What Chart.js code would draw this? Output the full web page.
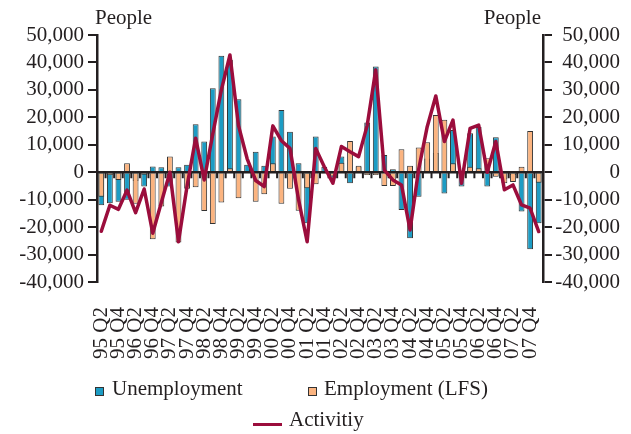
<!DOCTYPE html>
<html>
<head>
<meta charset="utf-8">
<script src="https://cdn.jsdelivr.net/npm/chart.js@4.4.0/dist/chart.umd.min.js"></script>
<style>
  body { margin: 0; background: #fff; }
  #wrap { position: relative; width: 631px; height: 434px; font-family: "Liberation Serif", "DejaVu Serif", serif; color: #231f20; }
  #wrap canvas { position: absolute; left: 0; top: 0; }
  .txt { position: absolute; font-size: 21px; line-height: 21px; white-space: nowrap; }
  .box { position: absolute; width: 7px; height: 7px; border: 1px solid #333; }
  .dash { position: absolute; height: 3px; background: #9b0d3c; }
</style>
</head>
<body>
<div id="wrap">
  <canvas id="chart" width="631" height="434"></canvas>
  <div class="txt" style="left:95px; top:7px;">People</div>
  <div class="txt" style="right:90px; top:7px;">People</div>
  <div class="box" style="left:95px; top:387px; background:#1c9cc4;"></div>
  <div class="txt" style="left:112px; top:378px;">Unemployment</div>
  <div class="box" style="left:308px; top:387px; background:#fbb480;"></div>
  <div class="txt" style="left:324px; top:378px;">Employment (LFS)</div>
  <div class="dash" style="left:253px; top:423px; width:29px;"></div>
  <div class="txt" style="left:289px; top:409px;">Activitiy</div>
</div>
<script>
const quarters = [
  "95 Q2", "95 Q3", "95 Q4", "96 Q1", "96 Q2", "96 Q3", "96 Q4",
  "97 Q1", "97 Q2", "97 Q3", "97 Q4", "98 Q1", "98 Q2", "98 Q3", "98 Q4",
  "99 Q1", "99 Q2", "99 Q3", "99 Q4", "00 Q1", "00 Q2", "00 Q3", "00 Q4",
  "01 Q1", "01 Q2", "01 Q3", "01 Q4", "02 Q1", "02 Q2", "02 Q3", "02 Q4",
  "03 Q1", "03 Q2", "03 Q3", "03 Q4", "04 Q1", "04 Q2", "04 Q3", "04 Q4",
  "05 Q1", "05 Q2", "05 Q3", "05 Q4", "06 Q1", "06 Q2", "06 Q3", "06 Q4",
  "07 Q1", "07 Q2", "07 Q3", "07 Q4", "08 Q1"
];

// change in people
const unemployment = [
  -12000, -11300, -10700, -10000, -3200, -5200, 2100,
  1800, -5200, 1800, 2700, 17500, 11200, 30600, 42400,
  41000, 26600, 2700, 7500, 2400, 13000, 22700, 14800,
  3300, -18600, 13000, 2000, -2000, 5700, -4000, 2000,
  18100, 38500, 6300, 1100, -13700, -24000, -8900, 5000,
  7000, -7700, 15400, -5200, 14200, 16500, -5200, 12800,
  -2500, -1000, -14300, -28000, -18600
];

const employment = [
  -8900, -1000, -2800, 3300, -11500, -900, -24400,
  -12500, 5700, -25600, -6000, -5500, -14100, -18800, -11000,
  1500, -9500, 500, -10700, -8000, 3300, -11500, -6000,
  -14000, -5800, -4400, -500, -1500, 3500, 11400, 2400,
  -1000, -1000, -5000, -5000, 8400, 2400, 9000, 10900,
  20900, 19100, 3300, 500, 2000, 1500, 5100, -1600,
  -4000, -3500, 2000, 15000, -3800
];

const activity = [
  -21500, -12000, -13500, -6500, -14700, -6100, -22200,
  -11000, 0, -25300, -5000, 12400, -2800, 14000, 30000,
  42700, 17000, 5000, -3000, -5200, 16900, 11500, 8700,
  -10000, -25300, 8700, 2000, -4000, 9400, 7500, 5700,
  17000, 37300, 800, -2800, -4600, -21000, 1000, 16600,
  27800, 11200, 19000, -4000, 16000, 17200, 0, 11200,
  -6400, -4600, -11900, -13100, -21600
];

const yTicks = { min: -40000, max: 50000, step: 10000 };

const ink = "#231f20";
const fontFamily = "'Liberation Serif', 'DejaVu Serif', serif";

function fmt(v) {
  return v.toLocaleString("en-US");
}

// thick zero line with the category tick marks, drawn over the bars
const zeroAxis = {
  id: "zeroAxis",
  afterDatasetDraw(chart, args) {
    if (args.index !== 1) return;
    const { ctx, chartArea, scales } = chart;
    const y0 = scales.y.getPixelForValue(0);
    ctx.save();
    ctx.strokeStyle = ink;
    ctx.lineWidth = 2.5;
    ctx.beginPath();
    ctx.moveTo(chartArea.left, y0);
    ctx.lineTo(chartArea.right, y0);
    ctx.stroke();
    ctx.lineWidth = 2;
    ctx.beginPath();
    for (let i = 0; i <= quarters.length; i++) {
      const px = scales.x.getPixelForValue(i - 0.5);
      ctx.moveTo(px, y0);
      ctx.lineTo(px, y0 + 6);
    }
    ctx.stroke();
    ctx.restore();
  },
};

const yAxis = (pos) => ({
  position: pos,
  min: yTicks.min,
  max: yTicks.max,
  afterFit: (s) => {
    s.width = pos === "left" ? 97 : 77;
  },
  ticks: {
    stepSize: yTicks.step,
    autoSkip: false,
    callback: fmt,
    color: ink,
    padding: 4,
    crossAlign: pos === "left" ? "near" : "far",
    font: { family: fontFamily, size: 21 },
  },
  grid: { drawOnChartArea: false, tickLength: 9, color: ink, lineWidth: 2 },
  border: { color: ink, width: 2.5 },
});

new Chart(document.getElementById("chart"), {
  type: "bar",
  data: {
    labels: quarters,
    datasets: [
      {
        label: "Unemployment",
        data: unemployment,
        backgroundColor: "#1c9cc4",
        borderColor: "#333",
        borderWidth: 1,
        grouped: false,
        order: 3,
      },
      {
        label: "Employment (LFS)",
        data: employment,
        backgroundColor: "#fbb480",
        borderColor: "#333",
        borderWidth: 1,
        grouped: false,
        order: 2,
      },
      {
        type: "line",
        label: "Activitiy",
        data: activity,
        borderColor: "#9b0d3c",
        borderWidth: 3.5,
        borderJoinStyle: "round",
        borderCapStyle: "round",
        pointRadius: 0,
        tension: 0,
        order: 1,
      },
    ],
  },
  options: {
    responsive: false,
    animation: false,
    categoryPercentage: 0.68,
    barPercentage: 1,
    layout: { padding: { top: 35, right: 11, bottom: 58, left: 0 } },
    plugins: {
      legend: { display: false },
      tooltip: { enabled: false },
    },
    scales: {
      x: {
        offset: true,
        grid: { display: false },
        border: { display: false },
        ticks: {
          autoSkip: false,
          minRotation: 90,
          maxRotation: 90,
          padding: 17,
          color: ink,
          font: { family: fontFamily, size: 21 },
          callback: (v, i) => (i % 2 === 0 ? quarters[i] : ""),
        },
      },
      y: yAxis("left"),
      y2: yAxis("right"),
    },
  },
  plugins: [zeroAxis],
});
</script>
</body>
</html>
